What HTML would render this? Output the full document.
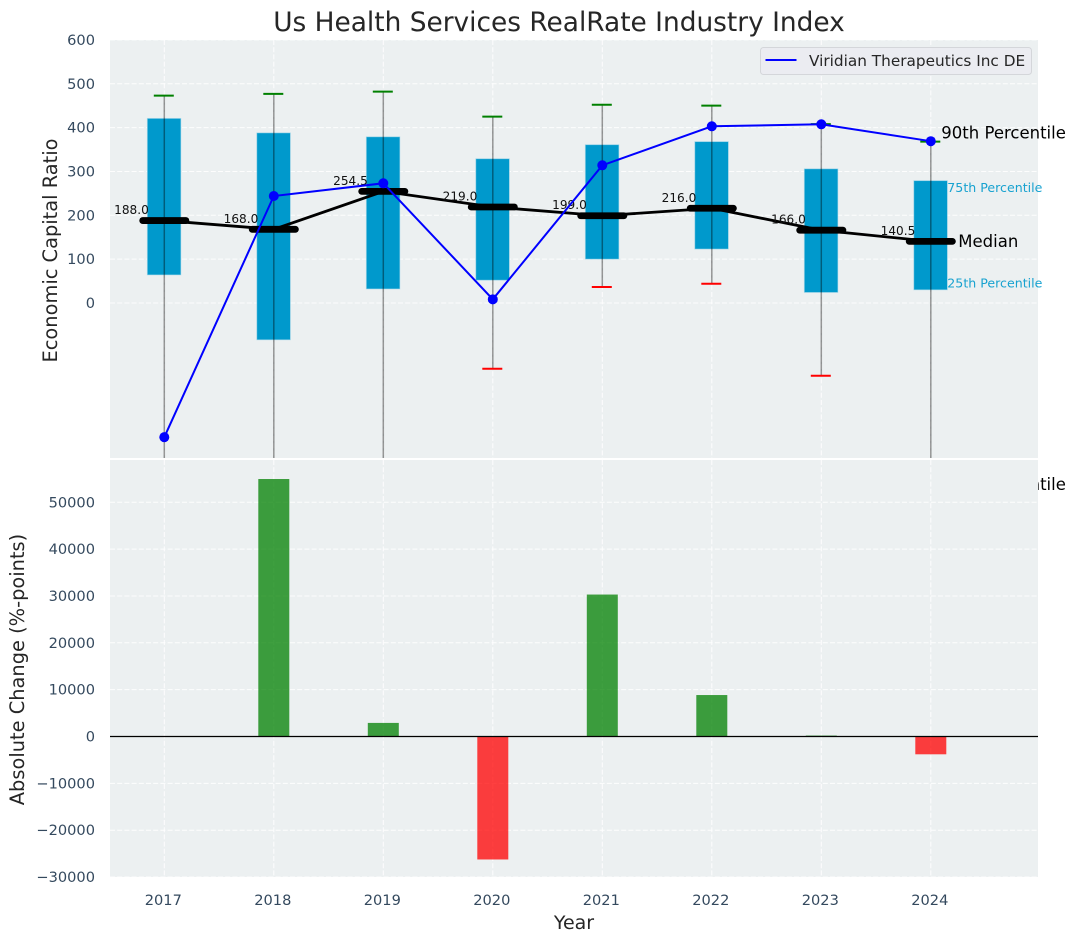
<!DOCTYPE html>
<html lang="en">
<head>
<meta charset="utf-8">
<title>Us Health Services RealRate Industry Index</title>
<style>
html,body{margin:0;padding:0;background:#fff;width:1076px;height:942px;overflow:hidden}
svg{display:block}
text{font-family:"DejaVu Sans","Liberation Sans",sans-serif}
</style>
</head>
<body>
<svg id="chart" xmlns="http://www.w3.org/2000/svg" width="1076" height="942" viewBox="0 0 1076 942">
  <defs>
    <clipPath id="clipTop"><rect x="110" y="40" width="928" height="418"/></clipPath>
    <clipPath id="clipBottom"><rect x="110" y="460" width="928" height="417"/></clipPath>
  </defs>
  <text x="559" y="31" text-anchor="middle" font-size="26.4" fill="#262626">Us Health Services RealRate Industry Index</text>
  <text transform="translate(57,250.5) rotate(-90)" text-anchor="middle" font-size="19.4" fill="#262626">Economic Capital Ratio</text>
  <text transform="translate(24,669.5) rotate(-90)" text-anchor="middle" font-size="19.4" fill="#262626">Absolute Change (%-points)</text>
  <text x="574" y="929" text-anchor="middle" font-size="19" fill="#262626">Year</text>
  <g id="topAxes"></g>
  <g id="bottomAxes"></g>
</svg>
<script>
// ---- chart data ----
const years = [2017, 2018, 2019, 2020, 2021, 2022, 2023, 2024];
const p90 = [473, 477, 482, 425, 452, 450, 408, 368];
const q3 = [421, 388, 379, 329, 361, 368, 306, 279];
const medians = [188, 168, 254.5, 219, 199, 216, 166, 140.5];
const q1 = [64, -84, 32, 52, 100, 123, 24, 30];
const p10 = [-420, -400, -400, -150, 36.5, 44, -166, -413];
const company = [-306, 244, 273, 8.4, 314, 403, 407.5, 369];
const changes = [0, 54960, 2900, -26250, 30300, 8850, 200, -3800];
const topTicks = [0, 100, 200, 300, 400, 500, 600];
const bottomTicks = [-30000, -20000, -10000, 0, 10000, 20000, 30000, 40000, 50000];

// ---- axis functions ----
const NS = 'http://www.w3.org/2000/svg';
const xScale = v => 164.3 + (v - 2017) * 109.5;
const yTop = v => 303 - v * 0.4385;
const yBottom = v => 736.5 - v * 0.004685;

function mk(tag, parent, attrs, txt) {
  const el = document.createElementNS(NS, tag);
  for (const k in attrs) el.setAttribute(k, attrs[k]);
  if (txt !== undefined) el.textContent = txt;
  parent.appendChild(el);
  return el;
}
const fmt = v => String(v).replace('-', '\u2212');
const top_ = document.getElementById('topAxes');
const bot_ = document.getElementById('bottomAxes');
let el;

// ---- top panel ----
el = mk('rect', top_, {x:110, y:40, width:928, height:418, fill:'#ecf0f1'});



topTicks.forEach(t => {
  el = mk('line', top_, {x1:110, x2:1038, y1:yTop(t), y2:yTop(t), stroke:'#fff', 'stroke-width':1, 'stroke-dasharray':'5 2.2', opacity:.9});
  
  
  el = mk('text', top_, {x:95, y:yTop(t) + 5, 'text-anchor':'end', 'font-size':14.6, fill:'#34495e'}, fmt(t));
  
  
});
years.forEach(y => {
  el = mk('line', top_, {x1:xScale(y), x2:xScale(y), y1:40, y2:458, stroke:'#fff', 'stroke-width':1, 'stroke-dasharray':'5 2.2', opacity:.9});
  
  
});

// the 10th percentile label sits under the lower panel, only its tail shows
const plotTop = mk('g', top_, {'clip-path':'url(#clipTop)'});



years.forEach((y, i) => {
  const cx = xScale(y);
  el = mk('rect', plotTop, {x:cx - 17, y:yTop(q3[i]), width:33.6, height:yTop(q1[i]) - yTop(q3[i]), fill:'#0099cc', stroke:'#a8d8ea', 'stroke-width':.8, 'stroke-opacity':.7});
  
  
  el = mk('line', plotTop, {x1:cx, x2:cx, y1:yTop(p90[i]), y2:yTop(p10[i]), stroke:'#000', 'stroke-opacity':.4, 'stroke-width':1.5});
  
  
  el = mk('line', plotTop, {x1:cx - 10.5, x2:cx + 9.5, y1:yTop(p90[i]), y2:yTop(p90[i]), stroke:'#008000', 'stroke-width':2});
  
  
  el = mk('line', plotTop, {x1:cx - 10.5, x2:cx + 9.5, y1:yTop(p10[i]), y2:yTop(p10[i]), stroke:'#ff0000', 'stroke-width':2});
  
  
});

el = mk('polyline', plotTop, {points:years.map((y, i) => xScale(y) + ',' + yTop(medians[i])).join(' '), fill:'none', stroke:'#000', 'stroke-width':2.8});



years.forEach((y, i) => {
  const cx = xScale(y);
  el = mk('line', plotTop, {x1:cx - 21.6, x2:cx + 21.6, y1:yTop(medians[i]), y2:yTop(medians[i]), stroke:'#000', 'stroke-width':6.8, 'stroke-linecap':'round'});
  
  
  el = mk('text', plotTop, {x:cx - 15.5, y:yTop(medians[i]) - 6.5, 'text-anchor':'end', 'font-size':12.1, fill:'#111'}, medians[i].toFixed(1));
  
  
});

el = mk('polyline', plotTop, {points:years.map((y, i) => xScale(y) + ',' + yTop(company[i])).join(' '), fill:'none', stroke:'#0000ff', 'stroke-width':2});


years.forEach((y, i) => {
  el = mk('circle', plotTop, {cx:xScale(y), cy:yTop(company[i]), r:5, fill:'#0000ff'});
  
  
});

// legend
el = mk('rect', top_, {x:760.5, y:47.5, width:271, height:27, rx:3, fill:'#eaecf1', 'fill-opacity':.92, stroke:'#d4d6da', 'stroke-width':1});


el = mk('line', top_, {x1:765.5, x2:796.5, y1:60, y2:60, stroke:'#0000ff', 'stroke-width':2});


el = mk('text', top_, {x:809, y:66, 'font-size':15.3, fill:'#262626'}, 'Viridian Therapeutics Inc DE');



// percentile annotations on the last year
const lastX = xScale(years[years.length - 1]);
const last = years.length - 1;
el = mk('text', top_, {x:lastX + 10.5, y:yTop(p90[last]) - 3, 'font-size':16.5, fill:'#000'}, '90th Percentile');


el = mk('text', top_, {x:lastX + 16.5, y:yTop(q3[last]) + 11.5, 'font-size':12.6, fill:'#0099cc', 'fill-opacity':.9}, '75th Percentile');


el = mk('text', top_, {x:lastX + 27.5, y:yTop(medians[last]) + 5.5, 'font-size':16.5, fill:'#000'}, 'Median');


el = mk('text', top_, {x:lastX + 16.5, y:yTop(q1[last]) - 2.5, 'font-size':12.6, fill:'#0099cc', 'fill-opacity':.9}, '25th Percentile');


el = mk('text', top_, {x:lastX + 10.5, y:yTop(p10[last]) + 6, 'font-size':16.5, fill:'#000'}, '10th Percentile');



// ---- bottom panel ----
el = mk('rect', bot_, {x:110, y:460, width:928, height:417, fill:'#ecf0f1'});



bottomTicks.forEach(t => {
  el = mk('line', bot_, {x1:110, x2:1038, y1:yBottom(t), y2:yBottom(t), stroke:'#fff', 'stroke-width':1, 'stroke-dasharray':'5 2.2', opacity:.9});
  
  
  el = mk('text', bot_, {x:95, y:yBottom(t) + 5, 'text-anchor':'end', 'font-size':14.6, fill:'#34495e'}, fmt(t));
  
  
});
years.forEach(y => {
  el = mk('line', bot_, {x1:xScale(y), x2:xScale(y), y1:460, y2:877, stroke:'#fff', 'stroke-width':1, 'stroke-dasharray':'5 2.2', opacity:.9});
  
  
  el = mk('text', bot_, {x:xScale(y) - 1, y:905, 'text-anchor':'middle', 'font-size':14.6, fill:'#34495e'}, String(y));
  
  
});

const plotBot = mk('g', bot_, {'clip-path':'url(#clipBottom)'});


years.forEach((y, i) => {
  const v = changes[i];
  const up = v >= 0;
  el = mk('rect', plotBot, {x:xScale(y) - 15.5, y:Math.min(yBottom(v), yBottom(0)), width:31, height:Math.abs(yBottom(v) - yBottom(0)), fill:up ? '#008000' : '#ff0000', 'fill-opacity':.75});
  
  
});
el = mk('line', plotBot, {x1:110, x2:1038, y1:yBottom(0), y2:yBottom(0), stroke:'#000', 'stroke-width':1.2});


</script>
</body>
</html>
